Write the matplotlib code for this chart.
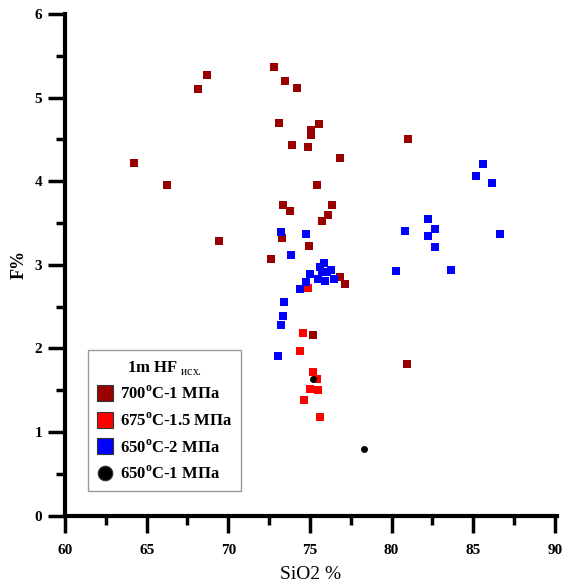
import numpy as np
import matplotlib
matplotlib.use('Agg')
import matplotlib.pyplot as plt

plt.rcParams['font.family'] = ['Liberation Serif', 'DejaVu Serif']
plt.rcParams['mathtext.fontset'] = 'custom'
plt.rcParams['mathtext.rm'] = 'Liberation Serif'
plt.rcParams['mathtext.bf'] = 'Liberation Serif:bold'

# SiO2 (%) and F (%) for each experiment series
sio2_700 = [72.80, 68.71, 73.49, 74.22, 68.13, 73.09, 75.55, 75.08, 75.08, 73.90,
            74.86, 76.84, 81.02, 64.24, 66.25, 75.43, 76.33, 73.35, 73.78, 76.12,
            75.72, 73.31, 69.45, 74.96, 72.61, 76.84, 77.13, 75.20, 80.92]
f_700 = [5.37, 5.27, 5.20, 5.11, 5.10, 4.70, 4.69, 4.61, 4.55, 4.43,
         4.41, 4.28, 4.51, 4.22, 3.96, 3.95, 3.72, 3.72, 3.64, 3.60,
         3.53, 3.32, 3.28, 3.22, 3.07, 2.85, 2.77, 2.16, 1.81]

sio2_675 = [74.88, 74.59, 74.39, 75.20, 75.45, 75.00, 75.49, 74.65, 75.63]
f_675 = [2.72, 2.18, 1.97, 1.72, 1.63, 1.52, 1.50, 1.38, 1.18]

sio2_650_2 = [73.21, 74.76, 73.86, 75.88, 75.62, 76.31, 75.00, 76.03, 75.72, 75.51,
              75.92, 76.47, 74.76, 74.39, 73.39, 73.37, 73.25, 73.04,
              85.58, 85.15, 86.17, 82.25, 82.66, 80.82, 82.25, 86.62, 82.66, 80.27, 83.62]
f_650_2 = [3.39, 3.37, 3.12, 3.02, 2.98, 2.94, 2.89, 2.91, 2.92, 2.83,
           2.81, 2.83, 2.80, 2.71, 2.55, 2.39, 2.28, 1.91,
           4.21, 4.06, 3.98, 3.55, 3.43, 3.41, 3.35, 3.37, 3.21, 2.93, 2.94]

sio2_650_1 = [75.20, 78.31]
f_650_1 = [1.64, 0.80]

labels = [r'700$^{\mathbf{o}}$C-1 МПа', r'675$^{\mathbf{o}}$C-1.5 МПа',
          r'650$^{\mathbf{o}}$C-2 МПа', r'650$^{\mathbf{o}}$C-1 МПа']
colors = ['#990000', '#ff0000', '#0000ff', 'black']

fig = plt.figure(figsize=(5.65, 5.82), dpi=100)
ax = fig.add_axes([0.1150, 0.1139, 0.870, 0.862])

series = [(sio2_700, f_700, 's'), (sio2_675, f_675, 's'),
          (sio2_650_2, f_650_2, 's'), (sio2_650_1, f_650_1, 'o')]
for (x, y, m), c, lab in zip(series, colors, labels):
    ax.plot(x, y, m, color=c, ms=5.2 if m == 's' else 5.0, mew=0, label=lab)

ax.set_xlim(60, 90.1)
ax.set_ylim(0, 6)
ax.set_xticks(np.arange(60, 91, 5))
ax.set_xticks(np.arange(62.5, 90, 5), minor=True)
ax.set_yticks(np.arange(0, 7, 1))
ax.set_yticks(np.arange(0.5, 6, 1), minor=True)

for s in ['top', 'right']:
    ax.spines[s].set_visible(False)
for s in ['left', 'bottom']:
    ax.spines[s].set_linewidth(3.0)

ax.tick_params(which='major', direction='out', length=12.5, width=2.5)
ax.tick_params(which='minor', direction='out', length=6.5, width=2.5)
ax.tick_params(axis='x', which='major', pad=8)
ax.tick_params(axis='y', which='major', pad=4)
for t in ax.get_xticklabels() + ax.get_yticklabels():
    t.set_fontweight('bold')
    t.set_fontsize(11)

ax.set_xlabel('SiO2 %', fontsize=14, labelpad=6)
ax.set_ylabel('F%', fontsize=13, fontweight='bold', labelpad=5)

leg = ax.legend(loc='lower left', bbox_to_anchor=(0.0468, 0.049), borderaxespad=0,
                title='1m HF $_{\\mathrm{исх.}}$', markerscale=2.1,
                prop={'weight': 'bold', 'size': 12},
                title_fontproperties={'weight': 'bold', 'size': 12},
                frameon=True, fancybox=False, edgecolor='#808080',
                handlelength=1.0, handletextpad=0.4, labelspacing=0.55,
                borderpad=0.5)
leg.get_frame().set_linewidth(1.0)
for h in leg.legend_handles:
    h.set_markeredgecolor('#333333')
    h.set_markeredgewidth(0.8)

fig.savefig('out.png', dpi=100)
